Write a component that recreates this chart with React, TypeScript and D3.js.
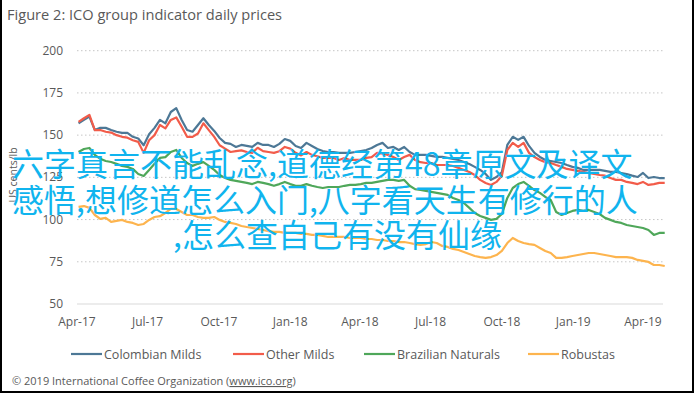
import React from 'react'
import * as d3 from 'd3'

// weekly readings from 3 Apr 2017, US cents/lb
const seriesNames = ['Colombian Milds', 'Other Milds', 'Brazilian Naturals', 'Robustas']
const seriesColors = ['#4d7896', '#f25c4a', '#4fa75a', '#fdb44e']

const colombianMilds = [
  157, 159, 161, 153, 154.3, 154.3, 153, 152, 151.3, 151.3, 149, 148, 144, 150.5, 154.3, 159, 157, 163.7, 166, 159,
  153, 152, 156, 160, 156, 152.5, 148.3, 145.4, 144.8, 143, 144.2, 143.6, 143, 145.4, 144.2, 144.2, 143, 144.8, 147.7, 146.6,
  143.6, 142.4, 145.4, 143.6, 141.8, 140.6, 140, 140, 139.5, 139.5, 139.5, 140, 140.6, 141.2, 142.4, 144.2, 145.4, 142.4, 143, 141.2,
  143, 140, 138.3, 138.3, 138.3, 137.7, 137.1, 137.1, 136.5, 135.9, 135.3, 134.1, 132.9, 131.2, 129.4, 127, 123.5, 125.2, 128.2, 144.2,
  149, 147.2, 149, 143.6, 139.5, 137.1, 135.3, 134.7, 134.1, 133.5, 132.3, 131.2, 130.6, 129.4, 129.4, 129.4, 129.4, 128.8, 128.2, 128.2,
  127.6, 127, 126, 125.2, 127.6, 124.6, 125.2, 124.6, 124.6,
]
const otherMilds = [
  157.8, 160, 162, 153, 153, 152, 151.5, 150, 149, 148.5, 147, 146, 139.5, 147, 150, 156, 154, 159, 160.5, 155,
  149, 149, 151, 157, 153, 149, 144, 142, 140, 140.5, 141, 140, 139.5, 142.5, 140.5, 140, 139.5, 140.5, 143, 142,
  139.5, 138, 140, 138.3, 137.5, 136.5, 136.5, 136.5, 135.3, 136.5, 135.3, 135.3, 135.3, 136.5, 137, 139.5, 139, 138.3, 137, 135.3,
  137, 138.3, 135.3, 134, 133.5, 133.5, 132.3, 132.3, 132.3, 131.7, 130.6, 129.4, 128.2, 126.4, 123.5, 121.7, 120.5, 122.3, 126, 141.2,
  145.4, 143, 145.4, 139.5, 137, 135.3, 134, 133.5, 132.3, 131.2, 130, 129.4, 128.8, 128.2, 127.6, 127, 126.4, 126, 124.6, 123.5,
  123.5, 122.3, 121.7, 121, 122.3, 120.5, 121, 121.7, 121.7,
]
const brazilianNaturals = [
  140, 141.8, 142.4, 138.3, 136, 134.7, 134.1, 133, 131.8, 131.2, 130, 127, 125.8, 129.4, 133, 136.5, 137, 140, 141.2, 136.5,
  133.5, 131.8, 133, 134, 131.8, 129.4, 126.4, 124.6, 123.5, 122.9, 122.3, 121.7, 121, 122.3, 121.7, 121, 120, 121, 122.3, 121,
  120, 120, 121, 120, 119.3, 118.7, 119.3, 119.3, 119.3, 120, 120.5, 120.5, 121, 121.7, 121.7, 122.3, 122.9, 123.5, 123.5, 122.9,
  123.5, 120, 118, 117.5, 117, 116.4, 115.8, 115.2, 114.6, 112.8, 111.6, 109.8, 106.9, 103.9, 102.1, 101, 99.8, 100.4, 103.3, 112.8,
  118.7, 121, 122.3, 120, 117.5, 115.8, 113.4, 111.6, 104.5, 102.7, 103.9, 105.1, 105.7, 105.1, 105.7, 104.5, 103.3, 101, 99.8, 98.6,
  98, 96.8, 96.2, 95.6, 95, 93.8, 90.9, 92.1, 92.1,
]
const robustas = [
  107.5, 108, 106.9, 102.7, 100.4, 101, 98.6, 99.2, 99.8, 98.6, 98, 96.8, 97.4, 99.8, 101.5, 102, 103.9, 106.3, 106.3, 104.5,
  102.7, 102.7, 101.5, 101, 101, 101.5, 99.8, 98.6, 98, 97.4, 96.2, 95.6, 95, 94.4, 93.8, 93.2, 92.7, 92.7, 92.1, 92.1,
  92.1, 91.5, 91.5, 90.9, 90.9, 90.3, 89.7, 89.7, 89.7, 89.7, 89.1, 89.1, 89.1, 88.5, 88.5, 87.9, 87.9, 87.3, 87.3, 86.7,
  86.7, 86.1, 85.5, 85, 85.5, 86.7, 86.1, 84.4, 83.8, 82.6, 82, 80.8, 79.6, 78.4, 77.8, 77.3, 77.8, 79, 81.4, 86.1,
  89.1, 87.3, 86.1, 85.5, 85, 83.2, 81.4, 80.2, 77.3, 77.3, 77.8, 78.4, 79, 79.6, 80.2, 80.2, 79.6, 79, 78.4, 77.8,
  77.8, 77.8, 77.3, 76.1, 75.5, 74.9, 73.1, 73.1, 72.5,
]
const allSeries = [colombianMilds, otherMilds, brazilianNaturals, robustas]

const yTicks = [50, 75, 100, 125, 150, 175, 200]
const overlayLines = [
  '六字真言不能乱念,道德经第48章原文及译文',
  '感悟,想修道怎么入门,八字看天生有修行的人',
  ',怎么查自己有没有仙缘',
]

const startDate = new Date(2017, 3, 3)
const font = '"Open Sans", "Liberation Sans", sans-serif'
const grey = '#595959'

export default function App() {
  const width = 695
  const height = 394
  const left = 77
  const right = 663

  const x = d3.scaleTime()
    .domain([new Date(2017, 3, 1), new Date(2019, 3, 1)])
    .range([77, 643])
  const y = d3.scaleLinear().domain([50, 200]).range([304, 50.7])

  const xTicks = d3.timeMonth.every(3)!.range(new Date(2017, 3, 1), new Date(2019, 3, 2))
  const fmt = d3.timeFormat('%b-%y')

  const line = d3.line<number>()
    .x((_, i) => x(d3.timeDay.offset(startDate, i * 7)))
    .y((d) => y(d))

  const legendX = [71, 233, 364, 528]

  return (
    <svg width={width} height={height} style={{ position: 'absolute', left: 0, top: 0, background: '#fff' }}>
      <rect x={0} y={0} width={width} height={height} fill="#fff" />
      <text x={7} y={20} fontFamily={font} fontSize={14.6} fill={grey}>Figure 2: ICO group indicator daily prices</text>

      {yTicks.map((t) => (
        <g key={t}>
          <line
            x1={left}
            x2={right}
            y1={y(t)}
            y2={y(t)}
            stroke={t === 50 ? '#d9d9d9' : '#c6c6c6'}
            strokeWidth={t === 50 ? 1.2 : 1}
            strokeDasharray={t === 50 ? undefined : '1.5,2.5'}
          />
          <text x={63} y={y(t) + 4} textAnchor="end" fontFamily={font} fontSize={12} fill={grey}>{t}</text>
        </g>
      ))}

      {xTicks.map((d) => (
        <text key={+d} x={x(d)} y={326} textAnchor="middle" fontFamily={font} fontSize={12} fill={grey}>{fmt(d)}</text>
      ))}

      <text transform="translate(17,175) rotate(-90)" textAnchor="middle" fontFamily={font} fontSize={10.5} fill={grey}>US cents/lb</text>

      {allSeries.map((s, k) => (
        <path key={k} d={line(s) || ''} fill="none" stroke={seriesColors[k]} strokeWidth={2.2} strokeLinejoin="round" />
      ))}

      {seriesNames.map((n, k) => (
        <g key={n}>
          <line x1={legendX[k]} x2={legendX[k] + 31} y1={354} y2={354} stroke={seriesColors[k]} strokeWidth={2.2} />
          <text x={legendX[k] + 33} y={358.5} fontFamily={font} fontSize={12.5} fill={grey}>{n}</text>
        </g>
      ))}

      <text x={12} y={385} fontFamily={font} fontSize={11} fill={grey}>
        © 2019 International Coffee Organization (<tspan textDecoration="underline">www.ico.org</tspan>)
      </text>

      {overlayLines.map((t, i) => (
        <text
          key={i}
          x={i === 2 ? 173 : 12}
          y={176 + i * 35.5}
          fontFamily='"Noto Sans CJK SC", sans-serif'
          fontSize={32}
          fill="#10b4ee"
        >{t}</text>
      ))}

      <line x1={1} x2={1} y1={0} y2={393} stroke="#000" strokeWidth={2} />
      <line x1={693} x2={693} y1={0} y2={393} stroke="#000" strokeWidth={2} />
      <line x1={0} x2={694} y1={392} y2={392} stroke="#000" strokeWidth={2} />
    </svg>
  )
}
